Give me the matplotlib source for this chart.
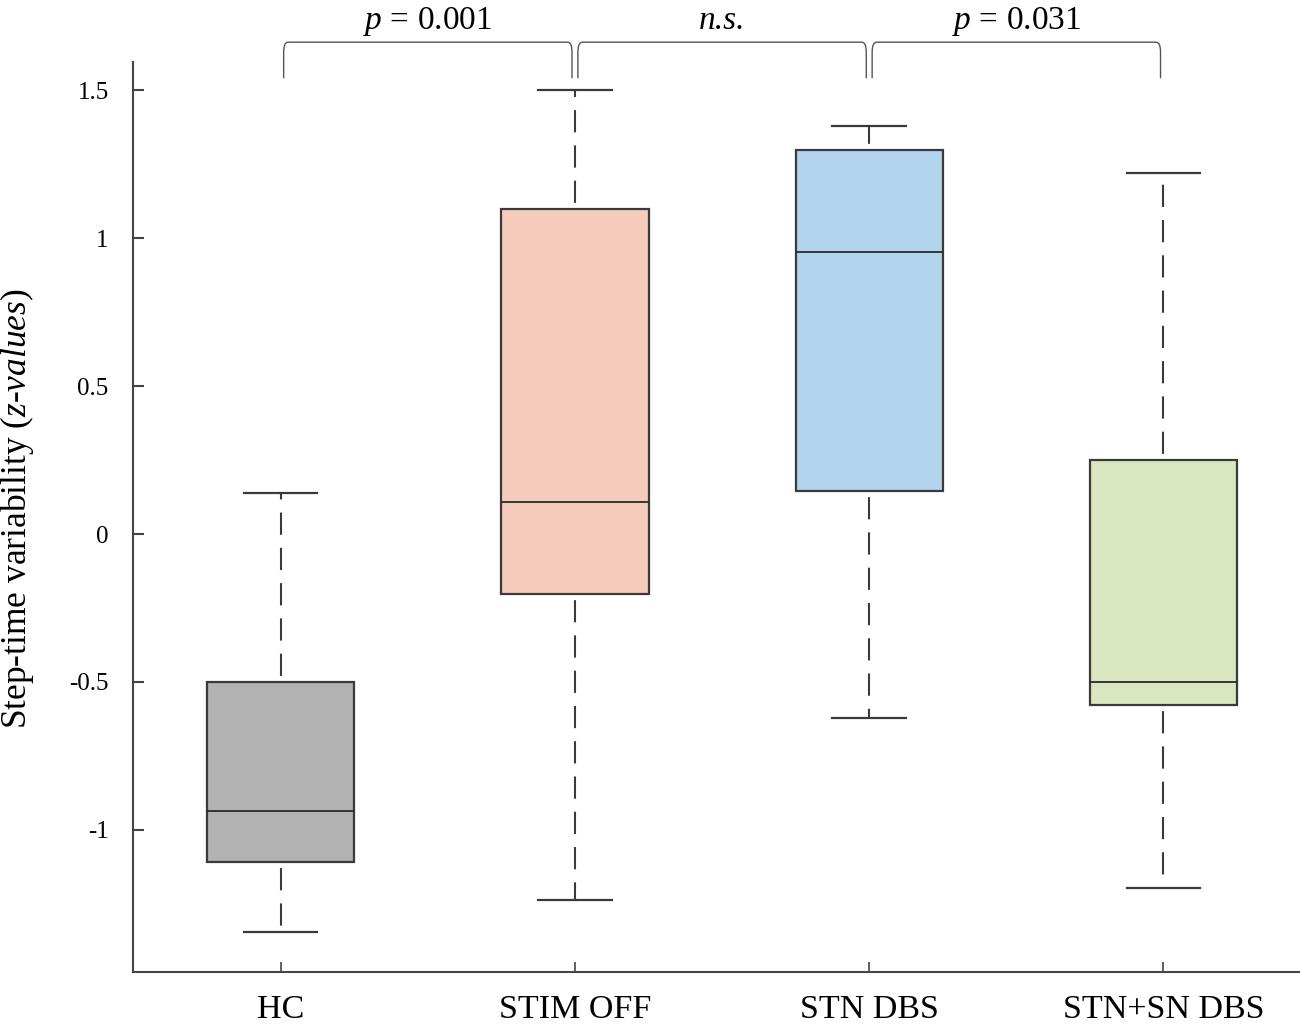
import matplotlib
matplotlib.use("Agg")
import matplotlib.pyplot as plt
from matplotlib.path import Path
from matplotlib.patches import PathPatch

plt.rcParams['font.family'] = ['Liberation Serif', 'DejaVu Serif']
plt.rcParams['mathtext.fontset'] = 'custom'
plt.rcParams['mathtext.rm'] = 'Liberation Serif'
plt.rcParams['mathtext.it'] = 'Liberation Serif:italic'
plt.rcParams['axes.unicode_minus'] = False
plt.rcParams['lines.scale_dashes'] = False

categories = ["HC", "STIM OFF", "STN DBS", "STN+SN DBS"]
whisker_low = [-1.345, -1.236, -0.622, -1.196]
q1 = [-1.108, -0.203, 0.145, -0.578]
median = [-0.936, 0.108, 0.953, -0.500]
q3 = [-0.500, 1.098, 1.297, 0.250]
whisker_high = [0.139, 1.500, 1.378, 1.220]
box_colors = ["#b2b2b2", "#f5cbbb", "#b2d4ec", "#d9e6c0"]

comparison_pairs = [(1, 2), (2, 3), (3, 4)]
comparison_labels = ["$p$ = 0.001", "n.s.", "$p$ = 0.031"]
comparison_italic = [False, True, False]
yticks = [-1, -0.5, 0, 0.5, 1, 1.5]
ytick_labels = ["-1", "-0.5", "0", "0.5", "1", "1.5"]

fig = plt.figure(figsize=(13, 10.28), dpi=100)
ax = fig.add_axes([133/1300, 56/1028, 1167/1300, 910/1028])

stats = []
for i, name in enumerate(categories):
    stats.append(dict(label=name, whislo=whisker_low[i], q1=q1[i], med=median[i],
                      q3=q3[i], whishi=whisker_high[i], fliers=[]))

pos = list(range(1, len(categories) + 1))
edge = "#3a3a3a"
bp = ax.bxp(stats, positions=pos, widths=0.5, capwidths=0.25, patch_artist=True,
            showfliers=False,
            boxprops=dict(edgecolor=edge, linewidth=1.6),
            medianprops=dict(color="#2a2a2a", linewidth=1.3),
            whiskerprops=dict(color=edge, linewidth=1.5, linestyle=(21.0, (16, 9.4))),
            capprops=dict(color=edge, linewidth=1.6))
for patch, c in zip(bp['boxes'], box_colors):
    patch.set_facecolor(c)

ax.set_xlim(0.498, 4.464)
ax.set_ylim(-1.48, 1.595)
ax.set_yticks(yticks)
ax.set_yticklabels(ytick_labels)
ax.set_xticks(pos)
ax.set_xticklabels(categories)
ax.spines['top'].set_visible(False)
ax.spines['right'].set_visible(False)
for s in ['left', 'bottom']:
    ax.spines[s].set_color("#444444")
    ax.spines[s].set_linewidth(1.5)
ax.tick_params(axis='y', direction='in', length=8, width=1.5, color="#444444",
               labelsize=18, pad=17.5)
ax.tick_params(axis='x', direction='in', length=7, width=1.2, color="#444444",
               labelsize=24.5, pad=16.5)

ax.set_ylabel("Step-time variability $\\mathit{(z}$-$\\mathit{values)}$", fontsize=25.5)
ax.yaxis.set_label_coords(-0.083, 0.509)

# comparison brackets
ytop, ybot = 1.662, 1.54
rx, ry = 0.015, 0.034
gap = 0.01
for (a, b), txt, it in zip(comparison_pairs, comparison_labels, comparison_italic):
    x0, x1 = a + gap, b - gap
    verts = [(x0, ybot), (x0, ytop - ry), (x0, ytop), (x0 + rx, ytop),
             (x1 - rx, ytop), (x1, ytop), (x1, ytop - ry), (x1, ybot)]
    codes = [Path.MOVETO, Path.LINETO, Path.CURVE3, Path.CURVE3,
             Path.LINETO, Path.CURVE3, Path.CURVE3, Path.LINETO]
    ax.add_patch(PathPatch(Path(verts, codes), fill=False, edgecolor="#555555",
                           linewidth=1.0, clip_on=False))
    ax.text((a + b) / 2, 1.706, txt, ha='center', va='baseline', fontsize=24,
            style='italic' if it else 'normal', clip_on=False)

fig.savefig("out.png", dpi=100)
